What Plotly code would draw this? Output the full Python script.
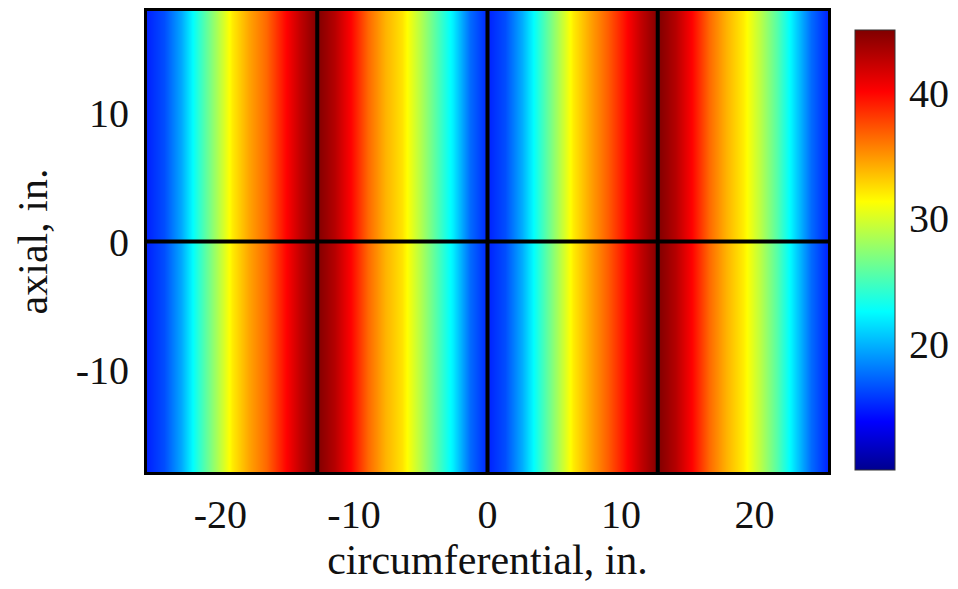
import plotly.graph_objects as go

circ_x = [-25.5, -24.225, -22.95, -21.675, -20.4, -19.125, -17.85, -16.575, -15.3, -14.025,
          -12.75, -11.475, -10.2, -8.925, -7.65, -6.375, -5.1, -3.825, -2.55, -1.275,
          0.0, 1.275, 2.55, 3.825, 5.1, 6.375, 7.65, 8.925, 10.2, 11.475,
          12.75, 14.025, 15.3, 16.575, 17.85, 19.125, 20.4, 21.675, 22.95, 24.225, 25.5]
values = [15.0, 16.5, 19.6, 24.0, 28.0, 32.0, 34.5, 36.5, 39.5, 42.5,
          45.0, 43.0, 40.0, 36.5, 34.0, 32.3, 29.0, 25.5, 22.0, 17.5,
          15.0, 16.5, 19.8, 24.0, 28.0, 32.0, 34.5, 36.8, 39.5, 42.5,
          45.0, 43.0, 40.0, 36.5, 34.0, 32.0, 29.0, 25.5, 21.5, 17.5, 15.0]
axial_y = [-18.0, 18.0]
panel_edges_x = [-12.75, 0.0, 12.75]
panel_edges_y = [0.0]
x_ticks = [-20, -10, 0, 10, 20]
x_tick_text = ["-20", "-10", "0", "10", "20"]
y_ticks = [-10, 0, 10]
y_tick_text = ["-10", "0", "10"]
cb_ticks = [20, 30, 40]

jet = [[0.0, "rgb(0,0,143)"], [0.11, "rgb(0,0,255)"], [0.36, "rgb(0,255,255)"],
       [0.61, "rgb(255,255,0)"], [0.86, "rgb(255,0,0)"], [1.0, "rgb(128,0,0)"]]

FONT = "Liberation Serif, Times New Roman, serif"

z = [values for _ in axial_y]

# the page body has an 8px default margin, so the figure is sized to fit the window
fig = go.Figure(go.Heatmap(
    x=circ_x, y=axial_y, z=z, zsmooth="best",
    colorscale=jet, zmin=10, zmax=45,
    colorbar=dict(
        thickness=40, thicknessmode="pixels",
        len=0.955, lenmode="fraction", y=0.482, yanchor="middle", ypad=0,
        x=1.04, xanchor="left", xpad=0,
        outlinewidth=1, outlinecolor="#333",
        tickvals=cb_ticks, ticks="outside", ticklen=6, tickcolor="rgba(0,0,0,0)",
        tickfont=dict(family=FONT, size=40, color="#111"),
    ),
))

for xv in panel_edges_x:
    fig.add_shape(type="line", xref="x", yref="y", x0=xv, x1=xv, y0=axial_y[0], y1=axial_y[1],
                  line=dict(color="black", width=4))
for yv in panel_edges_y:
    fig.add_shape(type="line", xref="x", yref="y", x0=circ_x[0], x1=circ_x[-1], y0=yv, y1=yv,
                  line=dict(color="black", width=4))

fig.update_layout(
    width=950, height=581,
    margin=dict(l=139, r=130, t=0, b=117),
    paper_bgcolor="white", plot_bgcolor="white",
    font=dict(family=FONT, size=40, color="#111"),
    xaxis=dict(range=[circ_x[0], circ_x[-1]], tickvals=x_ticks, ticktext=x_tick_text,
               showline=True, linecolor="black", linewidth=3, mirror=True,
               ticks="", showgrid=False, zeroline=False, ticklabelstandoff=5,
               title=dict(text="circumferential, in.", font=dict(family=FONT, size=42), standoff=6)),
    yaxis=dict(range=[axial_y[0], axial_y[1]], tickvals=y_ticks, ticktext=y_tick_text,
               showline=True, linecolor="black", linewidth=3, mirror=True,
               ticks="", showgrid=False, zeroline=False, ticklabelstandoff=7,
               title=dict(text="axial, in.", font=dict(family=FONT, size=42), standoff=15)),
)

fig.write_html("out.html")
